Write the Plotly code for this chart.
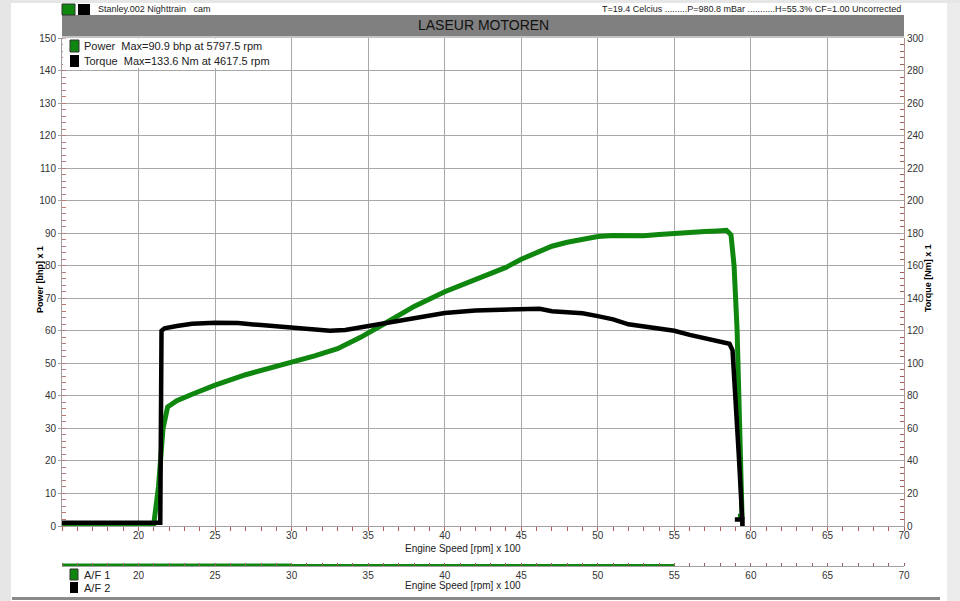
import plotly.graph_objects as go

# ---------------- data ----------------
power_rpm = [15, 18, 21.0, 21.3, 21.6, 21.9, 22.5, 23.5, 25, 27, 29, 30, 31.5, 33, 34.5, 36,
             38, 40, 42, 44, 45, 46, 47, 48, 49, 50, 51, 52, 53, 54, 55, 56, 57, 57.8, 58.4,
             58.7, 58.9, 59.1, 59.25, 59.35, 59.42, 59.15]
power_bhp = [0.8, 0.8, 0.8, 12, 30, 36.6, 38.5, 40.5, 43.3, 46.5, 49, 50.4, 52.3, 54.5, 58, 62,
             67.5, 72, 75.6, 79.5, 82, 84, 86, 87.2, 88.2, 89, 89.3, 89.3, 89.2, 89.6, 90, 90.3,
             90.5, 90.7, 90.9, 89.5, 80, 60, 35, 12, 3, 3]

torque_rpm = [15, 18, 21.42, 21.5, 21.7, 22.5, 23.5, 25, 26.5, 28, 30, 31.5, 32.5, 33.5, 35,
              36.5, 38, 40, 42, 44, 45, 46.2, 47, 48, 49, 50, 51, 52, 53, 54, 55, 56, 57, 58,
              58.6, 58.8, 59.0, 59.2, 59.4, 59.45, 59.45, 58.95]
torque_nm = [2, 2, 2, 120, 121.5, 123, 124.3, 125, 124.8, 123.5, 122, 120.8, 120, 120.5, 123,
             125.2, 127.5, 131, 132.5, 133.3, 133.4, 133.6, 132, 131.5, 130.8, 129, 127, 124,
             122.5, 121, 120, 117.5, 115.5, 113.5, 112, 108, 80, 45, 10, -1, 4, 4]

af1_rpm_a = [15, 30]
af1_val_a = [1, 1]
af1_rpm_b = [30, 55]
af1_val_b = [1, 1]

x_ticks = [20, 25, 30, 35, 40, 45, 50, 55, 60, 65, 70]

power_label = "Power  Max=90.9 bhp at 5797.5 rpm"
torque_label = "Torque  Max=133.6 Nm at 4617.5 rpm"
title_text = "LASEUR MOTOREN"
file_text = "Stanley.002 Nighttrain   cam"
cond_text = "T=19.4 Celcius .........P=980.8 mBar ...........H=55.3% CF=1.00 Uncorrected"

GREEN = "#0f870f"
BLACK = "#000000"
FONT = "Liberation Sans, Arial, sans-serif"

W, H = 960, 601
ML, MR, MT, MB = 62, 56, 38, 35
PW = W - ML - MR
PH = H - MT - MB


def px(x):
    return (x - ML) / PW


def py(y):
    return (H - MB - y) / PH


fig = go.Figure()

fig.add_trace(go.Scatter(x=power_rpm, y=power_bhp, mode="lines", xaxis="x", yaxis="y",
                         line=dict(color=GREEN, width=5), showlegend=False))
fig.add_trace(go.Scatter(x=torque_rpm, y=torque_nm, mode="lines", xaxis="x", yaxis="y2",
                         line=dict(color=BLACK, width=4.5), showlegend=False))
fig.add_trace(go.Scatter(x=af1_rpm_a, y=af1_val_a, mode="lines", xaxis="x2", yaxis="y3",
                         line=dict(color=GREEN, width=3), showlegend=False))
fig.add_trace(go.Scatter(x=af1_rpm_b, y=af1_val_b, mode="lines", xaxis="x2", yaxis="y3",
                         line=dict(color=GREEN, width=2), showlegend=False))

tickfont = dict(family=FONT, size=10, color="#333333")
main_bottom = py(526)

fig.update_layout(
    width=W, height=H,
    margin=dict(l=ML, r=MR, t=MT, b=MB),
    paper_bgcolor="white", plot_bgcolor="white",
    font=dict(family=FONT, color="#222222"),
    showlegend=False,
    xaxis=dict(domain=[0, 1], anchor="y", range=[15, 70], tickvals=x_ticks,
               showgrid=True, gridcolor="#a8a8a8", gridwidth=1,
               showline=True, linecolor="#a0a0a0", linewidth=1,
               ticks="", tickfont=tickfont, zeroline=False,
               minor=dict(dtick=1, tick0=15, ticks="outside", ticklen=4,
                          tickcolor="#b06060", showgrid=False)),
    yaxis=dict(domain=[main_bottom, 1], anchor="x", range=[0, 150], dtick=10,
               showgrid=True, gridcolor="#a8a8a8", gridwidth=1,
               showline=True, linecolor="#a0a0a0", linewidth=1,
               ticks="outside", ticklen=3, tickcolor="#a0a0a0",
               tickfont=tickfont, zeroline=False,
               minor=dict(dtick=2, ticks="inside", ticklen=4, tickcolor="#c07878",
                          showgrid=False)),
    yaxis2=dict(overlaying="y", side="right", anchor="x", range=[0, 300], dtick=20,
                showgrid=False, showline=True, linecolor="#b09090", linewidth=1,
                ticks="", tickfont=tickfont, zeroline=False,
                minor=dict(dtick=4, ticks="inside", ticklen=4, tickcolor="#a06060",
                           showgrid=False)),
    xaxis2=dict(domain=[0, 1], anchor="y3", range=[15, 70], tickvals=x_ticks,
                showgrid=False, showline=True, linecolor="#a0a0a0", linewidth=1,
                ticks="", tickfont=tickfont, zeroline=False,
                minor=dict(dtick=1, tick0=15, ticks="inside", ticklen=3,
                           tickcolor="#906060", showgrid=False)),
    yaxis3=dict(domain=[0, 0.02], anchor="x2", range=[0, 10], visible=False),
)

shapes = []
# page edges (gray surround)
shapes.append(dict(type="rect", xref="paper", yref="paper", x0=px(0), x1=px(11), y0=py(601), y1=py(0),
                   fillcolor="#e6e6e6", line=dict(width=0), layer="below"))
shapes.append(dict(type="rect", xref="paper", yref="paper", x0=px(947), x1=px(960), y0=py(601), y1=py(0),
                   fillcolor="#ececec", line=dict(width=0), layer="below"))
shapes.append(dict(type="rect", xref="paper", yref="paper", x0=px(0), x1=px(960), y0=py(3), y1=py(0),
                   fillcolor="#e6e6e6", line=dict(width=0), layer="below"))
shapes.append(dict(type="rect", xref="paper", yref="paper", x0=px(12), x1=px(940), y0=py(600), y1=py(597),
                   fillcolor="#8a8a8a", line=dict(width=0), layer="above"))
# header bar
shapes.append(dict(type="rect", xref="paper", yref="paper", x0=0, x1=1, y0=py(36), y1=py(15),
                   fillcolor="#808080", line=dict(width=0), layer="above"))
shapes.append(dict(type="rect", xref="paper", yref="paper", x0=0, x1=1, y0=py(38), y1=py(36),
                   fillcolor="#c4c4c4", line=dict(width=0), layer="above"))
# top file squares
shapes.append(dict(type="rect", xref="paper", yref="paper", x0=px(62), x1=px(75), y0=py(15), y1=py(4),
                   fillcolor=GREEN, line=dict(width=1, color="#333333"), layer="above"))
shapes.append(dict(type="rect", xref="paper", yref="paper", x0=px(78), x1=px(90), y0=py(15), y1=py(4),
                   fillcolor=BLACK, line=dict(width=0), layer="above"))
# main legend box
shapes.append(dict(type="rect", xref="paper", yref="paper", x0=px(63), x1=px(275), y0=py(68), y1=py(38.5),
                   fillcolor="white", line=dict(width=0), layer="above"))
shapes.append(dict(type="rect", xref="paper", yref="paper", x0=px(70), x1=px(79), y0=py(52), y1=py(40),
                   fillcolor=GREEN, line=dict(width=1, color="#333333"), layer="above"))
shapes.append(dict(type="rect", xref="paper", yref="paper", x0=px(70), x1=px(79), y0=py(67), y1=py(55),
                   fillcolor=BLACK, line=dict(width=0), layer="above"))
# A/F legend squares
shapes.append(dict(type="rect", xref="paper", yref="paper", x0=px(70), x1=px(78), y0=py(580), y1=py(569),
                   fillcolor=GREEN, line=dict(width=1, color="#333333"), layer="above"))
shapes.append(dict(type="rect", xref="paper", yref="paper", x0=px(70), x1=px(78), y0=py(593), y1=py(582),
                   fillcolor=BLACK, line=dict(width=0), layer="above"))
fig.update_layout(shapes=shapes)


def ann(text, x, y, size, xanchor="left", yanchor="middle", angle=0, color="#222222"):
    return dict(text=text, x=px(x), y=py(y), xref="paper", yref="paper", showarrow=False,
                xanchor=xanchor, yanchor=yanchor, textangle=angle,
                font=dict(family=FONT, size=size, color=color))


annotations = [
    ann(title_text, 483, 25.5, 14, xanchor="center", color="#111111"),
    ann(file_text, 96, 9, 9),
    ann(cond_text, 903, 9, 9, xanchor="right"),
    ann(power_label, 82, 46, 11),
    ann(torque_label, 82, 61, 11),
    ann("<b>Power [bhp] x 1</b>", 40, 280, 9, xanchor="center", angle=-90, color="#000000"),
    ann("<b>Torque [Nm] x 1</b>", 928, 278, 9, xanchor="center", angle=-90, color="#000000"),
    ann("Engine Speed [rpm] x 100", 463, 548, 10, xanchor="center"),
    ann("Engine Speed [rpm] x 100", 463, 585, 10, xanchor="center"),
    ann("A/F 1", 82, 575, 11),
    ann("A/F 2", 82, 588, 11),
]
fig.update_layout(annotations=annotations)

fig.write_html("out.html",
               config={"displayModeBar": False},
               post_script="document.body.style.margin='0';document.body.style.overflow='hidden';")
